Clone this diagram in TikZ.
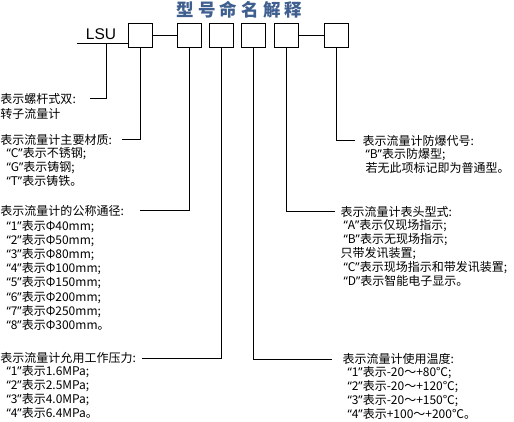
\documentclass[tikz,border=0pt]{standalone}
\usepackage{fontspec}
\setmainfont{Noto Sans CJK SC}
\newfontfamily\lsufont{Liberation Sans}
\newfontfamily\quotefont{Noto Sans}
\newfontfamily\titlefont[LetterSpace=24]{Noto Sans CJK SC}
\usetikzlibrary{positioning}
\definecolor{titleblue}{RGB}{62,95,143}
\newcommand\qt[1]{{\quotefont “}#1{\quotefont ”}}

\begin{document}
\begin{tikzpicture}[x=1pt,y=-1pt,line width=1pt,
  box/.style={draw,minimum size=24pt,inner sep=0pt},
  head/.style={anchor=west,inner sep=0pt,font=\fontsize{12}{14}\selectfont},
  info/.style={anchor=north west,align=left,inner sep=0pt,font=\fontsize{12}{14.1}\selectfont}]
\useasboundingbox (0,0) rectangle (514,422);

% title and code boxes
\node[anchor=west,inner sep=0pt,text=titleblue,font=\titlefont\bfseries\fontsize{17.5}{18}\selectfont] (title) at (176,9.5) {型号命名解释};
\node[inner sep=0pt,font=\lsufont\fontsize{15.5}{16}\selectfont] (lsu) at (101,34) {LSU};
\node[box] (b1) at (140,36) {};
\node[box] (b2) at (189,36) {};
\node[box] (b3) at (221,36) {};
\node[box] (b4) at (253,36) {};
\node[box] (b5) at (286,36) {};
\node[box] (b6) at (336.5,36) {};
\draw (b1) -- (b2);
\draw (b5) -- (b6);
\coordinate (lead) at (77,44);
\coordinate (j0) at (106,44);
\draw (lead) -- (lead -| b1.west);

% left column
\node[head] (h0) at (0,99) {表示螺杆式双:};
\node[info] (i0) at (0,108) {转子流量计};
\node[head] (h1) at (0,140) {表示流量计主要材质:};
\node[info] (i1) at (6,147) {\qt{C}表示不锈钢;\\\qt{G}表示铸钢;\\\qt{T}表示铸铁。};
\node[head] (h2) at (0,211) {表示流量计的公称通径:};
\node[info] (i2) at (6,220) {\qt{1}表示Φ40mm;\\\qt{2}表示Φ50mm;\\\qt{3}表示Φ80mm;\\\qt{4}表示Φ100mm;\\\qt{5}表示Φ150mm;\\\qt{6}表示Φ200mm;\\\qt{7}表示Φ250mm;\\\qt{8}表示Φ300mm。};
\node[head] (h3) at (0,358) {表示流量计允用工作压力:};
\node[info] (i3) at (6,364.5) {\qt{1}表示1.6MPa;\\\qt{2}表示2.5MPa;\\\qt{3}表示4.0MPa;\\\qt{4}表示6.4MPa。};

% right column
\node[head] (h6) at (362,141) {表示流量计防爆代号:};
\node[info] (i6) at (365,148) {\qt{B}表示防爆型;\\若无此项标记即为普通型。};
\node[head] (h5) at (340,212) {表示流量计表头型式:};
\node[info] (i5) at (340,219) {\hspace*{3pt}\qt{A}表示仅现场指示;\\\hspace*{3pt}\qt{B}表示无现场指示;\\只带发讯装置;\\\hspace*{3pt}\qt{C}表示现场指示和带发讯装置;\\\hspace*{3pt}\qt{D}表示智能电子显示。};
\node[head] (h4) at (342,359) {表示流量计使用温度:};
\node[info] (i4) at (347,365.5) {\qt{1}表示-20～+80℃;\\\qt{2}表示-20～+120℃;\\\qt{3}表示-20～+150℃;\\\qt{4}表示+100～+200℃。};

% connectors
\draw (j0) |- (h0.east -| 90,0);
\draw (b1.south) |- (h1.east -| 122,0);
\draw (b2.south) |- (h2.east -| 140,0);
\draw (b3.south) |- (h3.east -| 142,0);
\draw (b4.south) |- (h4.west -| 332,0);
\draw (b5.south) |- (h5.west -| 335,0);
\draw (b6.south) |- (h6.west -| 355,0);
\end{tikzpicture}
\end{document}
